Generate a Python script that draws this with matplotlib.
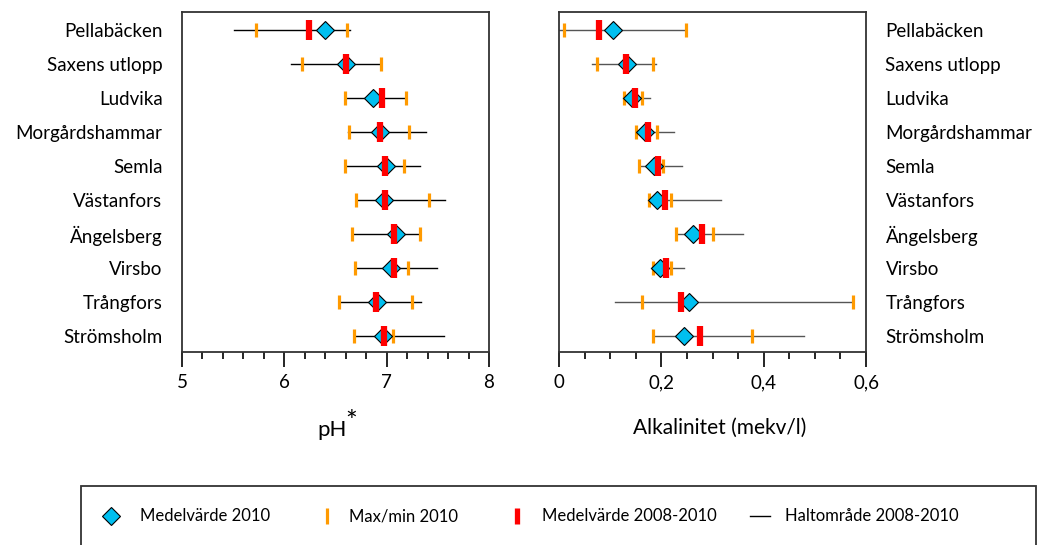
import matplotlib.pyplot as plt
from matplotlib.lines import Line2D
from matplotlib.patches import Rectangle
from matplotlib.ticker import MultipleLocator, FixedLocator

plt.rcParams['font.family'] = ['Lato', 'DejaVu Sans']

stations = ["Pellabäcken", "Saxens utlopp", "Ludvika", "Morgårdshammar", "Semla",
            "Västanfors", "Ängelsberg", "Virsbo", "Trångfors", "Strömsholm"]

# pH
ph_mean_2010 = [6.40, 6.60, 6.87, 6.93, 6.99, 6.97, 7.09, 7.04, 6.91, 6.96]
ph_min_2010 = [5.72, 6.17, 6.59, 6.63, 6.59, 6.70, 6.66, 6.69, 6.53, 6.68]
ph_max_2010 = [6.61, 6.94, 7.19, 7.22, 7.17, 7.41, 7.33, 7.21, 7.25, 7.06]
ph_mean_0810 = [6.24, 6.60, 6.95, 6.93, 6.98, 6.98, 7.07, 7.07, 6.90, 6.97]
ph_range_lo = [5.51, 6.07, 6.59, 6.62, 6.59, 6.70, 6.66, 6.69, 6.53, 6.68]
ph_range_hi = [6.64, 6.94, 7.19, 7.38, 7.33, 7.57, 7.33, 7.49, 7.34, 7.56]

# Alkalinitet (mekv/l)
alk_mean_2010 = [0.106, 0.133, 0.143, 0.169, 0.185, 0.192, 0.262, 0.197, 0.254, 0.244]
alk_min_2010 = [0.010, 0.074, 0.127, 0.150, 0.156, 0.175, 0.229, 0.183, 0.163, 0.183]
alk_max_2010 = [0.248, 0.184, 0.162, 0.191, 0.203, 0.218, 0.301, 0.219, 0.574, 0.378]
alk_mean_0810 = [0.079, 0.130, 0.148, 0.174, 0.193, 0.208, 0.280, 0.210, 0.239, 0.276]
alk_range_lo = [0.000, 0.064, 0.126, 0.150, 0.156, 0.174, 0.228, 0.180, 0.110, 0.184]
alk_range_hi = [0.248, 0.190, 0.178, 0.225, 0.241, 0.317, 0.360, 0.245, 0.574, 0.478]

blue = '#00bff0'
orange = '#ff9a00'
red = '#ff0000'

W, H = 1039, 545
fig = plt.figure(figsize=(W / 100, H / 100), dpi=100)
ax1 = fig.add_axes([182 / W, 193 / H, 307 / W, 340 / H])
ax2 = fig.add_axes([559 / W, 193 / H, 307 / W, 340 / H])

rows = list(range(len(stations)))


def draw_panel(ax, mean10, lo10, hi10, mean0810, rlo, rhi, line_col):
    for i in rows:
        ax.plot([rlo[i], rhi[i]], [i, i], color=line_col, lw=1.0, zorder=1)
    ax.plot(lo10, rows, ls='none', marker='|', ms=10, mew=2.3, color=orange, zorder=2)
    ax.plot(hi10, rows, ls='none', marker='|', ms=10, mew=2.3, color=orange, zorder=2)
    ax.plot(mean10, rows, ls='none', marker='D', ms=8.7, mfc=blue, mec='black',
            mew=0.8, zorder=3)
    ax.plot(mean0810, rows, ls='none', marker='|', ms=14.5, mew=4.5, color=red, zorder=4)
    ax.set_ylim(9.47, -0.53)
    ax.set_yticks(rows)
    ax.set_yticklabels(stations, fontsize=13.5)
    ax.tick_params(axis='y', length=0, pad=14)
    ax.tick_params(axis='x', which='major', direction='out', length=11, width=1.2,
                   labelsize=13.5, pad=5)
    ax.tick_params(axis='x', which='minor', direction='out', length=5, width=1.2)
    for sp in ax.spines.values():
        sp.set_linewidth(1.3)
        sp.set_color('#333333')


draw_panel(ax1, ph_mean_2010, ph_min_2010, ph_max_2010, ph_mean_0810,
           ph_range_lo, ph_range_hi, 'black')
ax1.set_xlim(5, 8)
ax1.xaxis.set_major_locator(FixedLocator([5, 6, 7, 8]))
ax1.xaxis.set_minor_locator(MultipleLocator(0.2))

draw_panel(ax2, alk_mean_2010, alk_min_2010, alk_max_2010, alk_mean_0810,
           alk_range_lo, alk_range_hi, '#555555')
ax2.set_xlim(0, 0.6)
ax2.set_xticks([0, 0.2, 0.4, 0.6])
ax2.set_xticklabels(['0', '0,2', '0,4', '0,6'])
ax2.xaxis.set_minor_locator(MultipleLocator(0.05))
ax2.yaxis.tick_right()

fig.text(317 / W, 1 - 430 / H, 'pH', fontsize=16, ha='left', va='center')
fig.text(345 / W, 1 - 423 / H, '*', fontsize=20, ha='left', va='center')
fig.text(720 / W, 1 - 428 / H, 'Alkalinitet (mekv/l)', fontsize=15,
         ha='center', va='center')

# legend box along the bottom
fig.add_artist(Rectangle((81 / W, -0.02), (1036 - 81) / W, (545 - 486) / H + 0.02,
                         transform=fig.transFigure, fill=False, ec='#333333', lw=1.3))
ly = 1 - 516 / H
fig.add_artist(Line2D([111 / W], [ly], marker='D', ms=8.7, mfc=blue, mec='black',
                      mew=0.8, transform=fig.transFigure))
fig.add_artist(Line2D([327 / W], [ly], marker='|', ms=12, mew=2.3, color=orange,
                      transform=fig.transFigure))
fig.add_artist(Line2D([517 / W], [ly], marker='|', ms=12, mew=3.8, color=red,
                      transform=fig.transFigure))
fig.add_artist(Line2D([750 / W, 770 / W], [ly, ly], color='black', lw=1.0,
                      transform=fig.transFigure))
for x, txt in [(140, 'Medelvärde 2010'), (349, 'Max/min 2010'),
               (542, 'Medelvärde 2008-2010'), (785, 'Haltområde 2008-2010')]:
    fig.text(x / W, ly, txt, fontsize=12, ha='left', va='center')

fig.savefig('out.png', dpi=100)
